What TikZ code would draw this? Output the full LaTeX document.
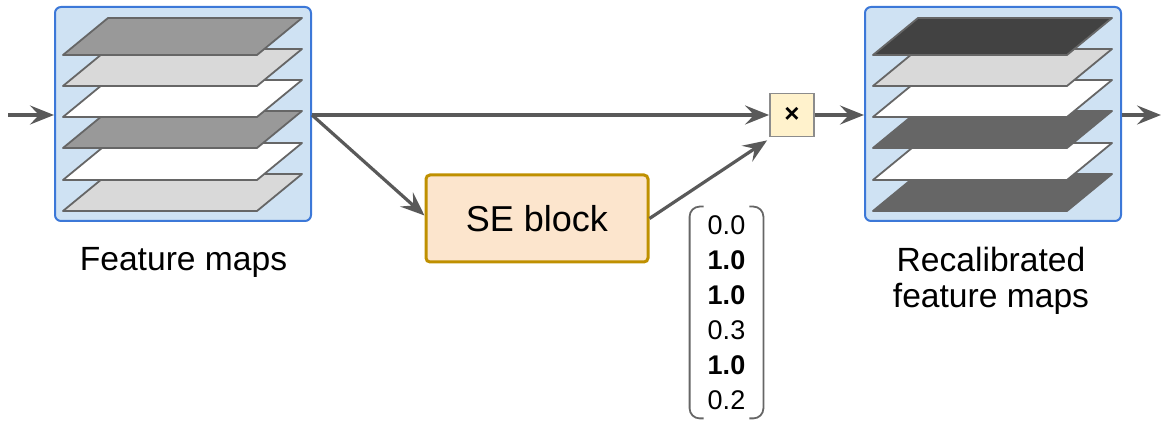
\documentclass[tikz,border=0pt]{standalone}
\usepackage{fontspec}
\setmainfont{Liberation Sans}
\usepackage{tikz}
\usetikzlibrary{arrows.meta,positioning}

\definecolor{mapblue}{HTML}{CFE2F3}
\definecolor{mapedge}{HTML}{3C78D8}
\definecolor{seorange}{HTML}{FCE5CD}
\definecolor{segold}{HTML}{BF9000}
\definecolor{mulyellow}{HTML}{FFF2CC}
\definecolor{arrowgray}{HTML}{595959}
\definecolor{planeedge}{HTML}{666666}

\begin{document}
\begin{tikzpicture}[x=0.5pt, y=-0.5pt]
        \tikzset{MapBox/.style={draw = mapedge, fill = mapblue, line width = 1pt,
                rounded corners = 3pt, minimum width = 128pt, minimum height = 107pt,
                inner sep = 0pt}}
        \tikzset{Plane/.style={draw = planeedge, line width = 0.9pt, line join = round}}
        \tikzset{Flow/.style={draw = arrowgray, line width = 1.6pt,
                -{Stealth[length = 12pt, width = 9.5pt, inset = 4.5pt]}}}
        \tikzset{Label/.style={font = \fontsize{16.8}{18}\selectfont, align = center,
                inner sep = 0pt}}
        \useasboundingbox (0,0) rectangle (1164,421);
        % input and output maps
        \node[MapBox] (fmaps) at (183,114) {};
        \node[MapBox] (rfmaps) at (993,114) {};
        \foreach \yb/\c in {211/black!15, 180/white, 148/black!40, 117/white, 86/black!15, 55/black!40}
            \draw[Plane, fill = \c] (63,\yb) -- ++(194,0) -- ++(45,-37) -- ++(-194,0) -- cycle;
        \foreach \yb/\c in {211/black!60, 180/white, 148/black!60, 117/white, 86/black!15, 55/black!74}
            \draw[Plane, fill = \c] (873,\yb) -- ++(194,0) -- ++(45,-37) -- ++(-194,0) -- cycle;
        \node[Label, anchor = base] (fl) at (183.5,271) {Feature maps};
        \node[Label, anchor = base] (rl) at (991,308) {Recalibrated\\feature maps};
        % SE block and scaling
        \node[draw = segold, fill = seorange, line width = 1.5pt, rounded corners = 2pt,
                minimum width = 111pt, minimum height = 43.5pt,
                font = \fontsize{18}{20}\selectfont] (se) at (537,218.5) {SE block};
        \node[draw = black!45, fill = mulyellow, line width = 0.9pt, minimum width = 22pt,
                minimum height = 21.5pt, inner sep = 0pt,
                font = \bfseries\fontsize{13}{14}\selectfont] (mul) at (792,115) {×};
        \node[minimum width = 36.5pt, minimum height = 105.5pt, inner sep = 0pt, align = center,
                font = \fontsize{13.5}{17.5}\selectfont] (vec) at (726.5,312.5)
                {0.0\\\textbf{1.0}\\\textbf{1.0}\\0.3\\\textbf{1.0}\\0.2};
        \draw[planeedge, line width = 0.9pt, rounded corners = 5pt]
                ([xshift = 7pt]vec.north west) -- (vec.north west) -- (vec.south west) -- ([xshift = 7pt]vec.south west);
        \draw[planeedge, line width = 0.9pt, rounded corners = 5pt]
                ([xshift = -7pt]vec.north east) -- (vec.north east) -- (vec.south east) -- ([xshift = -7pt]vec.south east);
        % connectors
        \coordinate (in) at (8,115);
        \coordinate (out) at (1161,115);
        \draw[Flow] (in) -- (fmaps.west |- in);
        \draw[Flow] (fmaps.east |- in) -- (mul.west);
        \draw[Flow] (fmaps.east |- in) -- ([yshift = 1.5pt]se.west);
        \draw[Flow] (se.east) -- ([xshift = -1pt, yshift = -1.5pt]mul.south west);
        \draw[Flow] (mul.east) -- (rfmaps.west |- mul);
        \draw[Flow] (rfmaps.east |- mul) -- (out);
    \end{tikzpicture}
\end{document}
